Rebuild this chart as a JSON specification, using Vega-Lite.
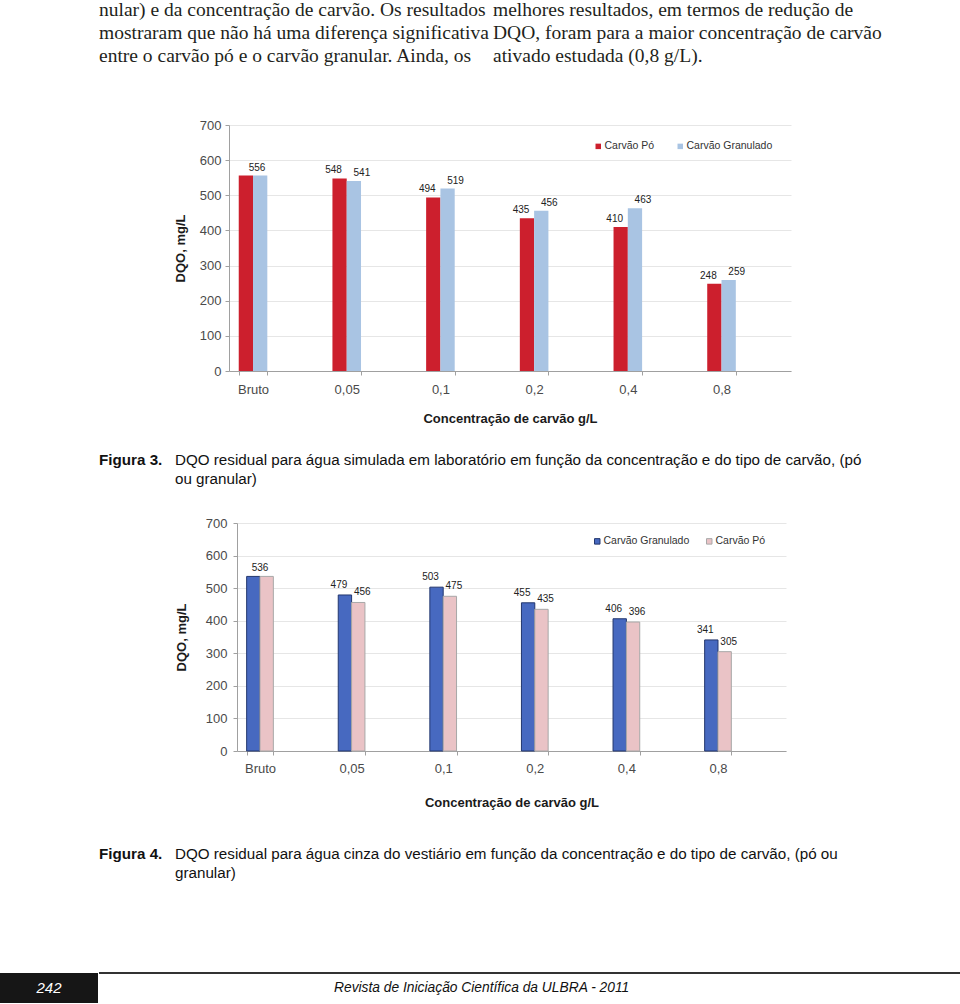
{
  "$schema": "https://vega.github.io/schema/vega-lite/v6.json",
  "padding": 0,
  "spacing": 0,
  "background": "white",
  "config": {"view": {"stroke": null}, "concat": {"spacing": 0}, "font": "Liberation Sans"},
  "resolve": {"scale": {"color": "independent", "stroke": "independent", "xOffset": "independent"}, "legend": {"color": "independent", "stroke": "independent"}},
  "vconcat": [
    {
      "width": 960, "height": 119,
      "data": {"values": [
        {"col": "a", "line": 1, "text": "nular) e da concentração de carvão. Os resultados"},
        {"col": "a", "line": 2, "text": "mostraram que não há uma diferença significativa"},
        {"col": "a", "line": 3, "text": "entre o carvão pó e o carvão granular. Ainda, os"},
        {"col": "b", "line": 1, "text": "melhores resultados, em termos de redução de"},
        {"col": "b", "line": 2, "text": "DQO, foram para a maior concentração de carvão"},
        {"col": "b", "line": 3, "text": "ativado estudada (0,8 g/L)."}
      ]},
      "mark": {"type": "text", "align": "left", "baseline": "middle", "font": "Liberation Serif", "fontSize": 19.5, "color": "#231f20"},
      "encoding": {
        "x": {"field": "col", "type": "ordinal", "scale": {"type": "point", "domain": ["a", "b"], "range": [99, 493], "padding": 0}, "axis": null},
        "y": {"field": "line", "type": "ordinal", "scale": {"type": "point", "domain": [1, 2, 3], "range": [10, 56], "padding": 0}, "axis": null},
        "text": {"field": "text"}
      }
    },
    {
      "spacing": 0,
      "resolve": {"scale": {"color": "independent", "xOffset": "independent"}, "legend": {"color": "independent"}},
      "hconcat": [
        {"width": 174, "height": 1, "data": {"values": []}, "mark": "point", "encoding": {}},
        {
          "width": 562, "height": 246,
          "data": {"values": [
            {"conc": "Bruto", "tipo": "Carvão Pó", "dqo": 556},
            {"conc": "Bruto", "tipo": "Carvão Granulado", "dqo": 556},
            {"conc": "0,05", "tipo": "Carvão Pó", "dqo": 548},
            {"conc": "0,05", "tipo": "Carvão Granulado", "dqo": 541},
            {"conc": "0,1", "tipo": "Carvão Pó", "dqo": 494},
            {"conc": "0,1", "tipo": "Carvão Granulado", "dqo": 519},
            {"conc": "0,2", "tipo": "Carvão Pó", "dqo": 435},
            {"conc": "0,2", "tipo": "Carvão Granulado", "dqo": 456},
            {"conc": "0,4", "tipo": "Carvão Pó", "dqo": 410},
            {"conc": "0,4", "tipo": "Carvão Granulado", "dqo": 463},
            {"conc": "0,8", "tipo": "Carvão Pó", "dqo": 248},
            {"conc": "0,8", "tipo": "Carvão Granulado", "dqo": 259}
          ]},
          "encoding": {
            "x": {"field": "conc", "type": "nominal", "sort": ["Bruto", "0,05", "0,1", "0,2", "0,4", "0,8"],
              "scale": {"paddingInner": 0.695, "paddingOuter": 0.3465, "align": 0.15},
              "axis": {"title": "Concentração de carvão g/L", "labelAngle": 0, "labelFontSize": 13, "labelColor": "#4a4a4a", "labelPadding": 8, "tickBand": "extent", "tickSize": 4, "tickColor": "#a0a0a0", "domainColor": "#a0a0a0", "titleFontSize": 13, "titleFontWeight": "bold", "titleColor": "#1a1a1a", "titlePadding": 16}},
            "y": {"field": "dqo", "type": "quantitative", "scale": {"domain": [0, 700]},
              "axis": {"values": [0, 100, 200, 300, 400, 500, 600, 700], "title": "DQO, mg/L", "grid": true, "gridColor": "#e6e6e6", "domainColor": "#a0a0a0", "tickColor": "#a0a0a0", "tickSize": 4, "labelFontSize": 13, "labelColor": "#4a4a4a", "labelPadding": 4, "titleFontSize": 13, "titleFontWeight": "bold", "titleColor": "#1a1a1a", "titlePadding": 12}}
          },
          "layer": [
            {
              "mark": {"type": "bar"},
              "encoding": {
                "xOffset": {"field": "tipo", "type": "nominal", "scale": {"domain": ["Carvão Pó", "Carvão Granulado"]}},
                "color": {"field": "tipo", "type": "nominal", "scale": {"domain": ["Carvão Pó", "Carvão Granulado"], "range": ["#cc1f2d", "#a9c4e3"]},
                  "legend": {"orient": "none", "legendX": 364, "legendY": 16, "direction": "horizontal", "title": null, "symbolType": "square", "symbolSize": 30, "labelFontSize": 10.5, "labelColor": "#333", "columnPadding": 20, "labelOffset": 1}}
              }
            },
            {
              "transform": [{"filter": "datum.conc !== 'Bruto' && datum.tipo === 'Carvão Pó'"}],
              "mark": {"type": "text", "baseline": "bottom", "dy": -3, "dx": -6, "fontSize": 10, "color": "#222"},
              "encoding": {"xOffset": {"field": "tipo", "type": "nominal", "scale": {"domain": ["Carvão Pó", "Carvão Granulado"]}}, "text": {"field": "dqo"}}
            },
            {
              "transform": [{"filter": "datum.conc !== 'Bruto' && datum.tipo === 'Carvão Granulado'"}],
              "mark": {"type": "text", "baseline": "bottom", "dy": -3, "dx": 8, "fontSize": 10, "color": "#222"},
              "encoding": {"xOffset": {"field": "tipo", "type": "nominal", "scale": {"domain": ["Carvão Pó", "Carvão Granulado"]}}, "text": {"field": "dqo"}}
            },
            {
              "transform": [{"filter": "datum.conc === 'Bruto' && datum.tipo === 'Carvão Pó'"}],
              "mark": {"type": "text", "baseline": "bottom", "dy": -3, "dx": 4, "fontSize": 10, "color": "#222"},
              "encoding": {"text": {"field": "dqo"}}
            }
          ]
        }
      ]
    },
    {
      "width": 960, "height": 92,
      "data": {"values": [
        {"col": "a", "line": 1, "text": "Figura 3."},
        {"col": "b", "line": 1, "text": "DQO residual para água simulada em laboratório em função da concentração e do tipo de carvão, (pó"},
        {"col": "b", "line": 2, "text": "ou granular)"}
      ]},
      "encoding": {
        "x": {"field": "col", "type": "ordinal", "scale": {"type": "point", "domain": ["a", "b"], "range": [99, 175], "padding": 0}, "axis": null},
        "y": {"field": "line", "type": "ordinal", "scale": {"type": "point", "domain": [1, 2], "range": [35, 54], "padding": 0}, "axis": null},
        "text": {"field": "text"}
      },
      "layer": [
        {"transform": [{"filter": "datum.col === 'a'"}], "mark": {"type": "text", "align": "left", "baseline": "middle", "fontSize": 15.2, "fontWeight": "bold", "color": "#111"}},
        {"transform": [{"filter": "datum.col === 'b'"}], "mark": {"type": "text", "align": "left", "baseline": "middle", "fontSize": 15.2, "color": "#111"}}
      ]
    },
    {
      "spacing": 0,
      "resolve": {"scale": {"color": "independent", "stroke": "independent", "xOffset": "independent"}, "legend": {"color": "independent", "stroke": "independent"}},
      "hconcat": [
        {"width": 175, "height": 1, "data": {"values": []}, "mark": "point", "encoding": {}},
        {
          "width": 549, "height": 228,
          "data": {"values": [
            {"conc": "Bruto", "tipo": "Carvão Granulado", "dqo": 536},
            {"conc": "Bruto", "tipo": "Carvão Pó", "dqo": 536},
            {"conc": "0,05", "tipo": "Carvão Granulado", "dqo": 479},
            {"conc": "0,05", "tipo": "Carvão Pó", "dqo": 456},
            {"conc": "0,1", "tipo": "Carvão Granulado", "dqo": 503},
            {"conc": "0,1", "tipo": "Carvão Pó", "dqo": 475},
            {"conc": "0,2", "tipo": "Carvão Granulado", "dqo": 455},
            {"conc": "0,2", "tipo": "Carvão Pó", "dqo": 435},
            {"conc": "0,4", "tipo": "Carvão Granulado", "dqo": 406},
            {"conc": "0,4", "tipo": "Carvão Pó", "dqo": 396},
            {"conc": "0,8", "tipo": "Carvão Granulado", "dqo": 341},
            {"conc": "0,8", "tipo": "Carvão Pó", "dqo": 305}
          ]},
          "encoding": {
            "x": {"field": "conc", "type": "nominal", "sort": ["Bruto", "0,05", "0,1", "0,2", "0,4", "0,8"],
              "scale": {"paddingInner": 0.7085, "paddingOuter": 0.351, "align": 0.15},
              "axis": {"title": "Concentração de carvão g/L", "labelAngle": 0, "labelFontSize": 13, "labelColor": "#4a4a4a", "labelPadding": 7, "tickBand": "extent", "tickSize": 4, "tickColor": "#a0a0a0", "domainColor": "#a0a0a0", "titleFontSize": 13, "titleFontWeight": "bold", "titleColor": "#1a1a1a", "titlePadding": 21}},
            "y": {"field": "dqo", "type": "quantitative", "scale": {"domain": [0, 700]},
              "axis": {"values": [0, 100, 200, 300, 400, 500, 600, 700], "title": "DQO, mg/L", "grid": true, "gridColor": "#e6e6e6", "domainColor": "#a0a0a0", "tickColor": "#a0a0a0", "tickSize": 4, "labelFontSize": 13, "labelColor": "#4a4a4a", "labelPadding": 6, "titleFontSize": 13, "titleFontWeight": "bold", "titleColor": "#1a1a1a", "titlePadding": 17}}
          },
          "layer": [
            {
              "mark": {"type": "bar", "strokeWidth": 1},
              "encoding": {
                "xOffset": {"field": "tipo", "type": "nominal", "scale": {"domain": ["Carvão Granulado", "Carvão Pó"]}},
                "color": {"field": "tipo", "type": "nominal", "scale": {"domain": ["Carvão Granulado", "Carvão Pó"], "range": ["#4769c0", "#eac3c6"]},
                  "legend": {"orient": "none", "legendX": 355, "legendY": 13, "direction": "horizontal", "title": null, "symbolType": "square", "symbolSize": 30, "symbolStrokeColor": "#444", "symbolStrokeWidth": 1, "labelFontSize": 10.5, "labelColor": "#333", "columnPadding": 14, "labelOffset": 1}},
                "stroke": {"field": "tipo", "type": "nominal", "scale": {"domain": ["Carvão Granulado", "Carvão Pó"], "range": ["#23376e", "#a8a8a8"]}, "legend": null}
              }
            },
            {
              "transform": [{"filter": "datum.conc !== 'Bruto' && datum.tipo === 'Carvão Granulado'"}],
              "mark": {"type": "text", "baseline": "bottom", "dy": -5, "dx": -6, "fontSize": 10, "color": "#222"},
              "encoding": {"xOffset": {"field": "tipo", "type": "nominal", "scale": {"domain": ["Carvão Granulado", "Carvão Pó"]}}, "text": {"field": "dqo"}}
            },
            {
              "transform": [{"filter": "datum.conc !== 'Bruto' && datum.tipo === 'Carvão Pó'"}],
              "mark": {"type": "text", "baseline": "bottom", "dy": -5, "dx": 4, "fontSize": 10, "color": "#222"},
              "encoding": {"xOffset": {"field": "tipo", "type": "nominal", "scale": {"domain": ["Carvão Granulado", "Carvão Pó"]}}, "text": {"field": "dqo"}}
            },
            {
              "transform": [{"filter": "datum.conc === 'Bruto' && datum.tipo === 'Carvão Granulado'"}],
              "mark": {"type": "text", "baseline": "bottom", "dy": -3, "dx": 0, "fontSize": 10, "color": "#222"},
              "encoding": {"text": {"field": "dqo"}}
            }
          ]
        }
      ]
    },
    {
      "width": 960, "height": 163,
      "data": {"values": [
        {"col": "a", "line": 1, "text": "Figura 4."},
        {"col": "b", "line": 1, "text": "DQO residual para água cinza do vestiário em função da concentração e do tipo de carvão, (pó ou"},
        {"col": "b", "line": 2, "text": "granular)"}
      ]},
      "encoding": {
        "x": {"field": "col", "type": "ordinal", "scale": {"type": "point", "domain": ["a", "b"], "range": [99, 175], "padding": 0}, "axis": null},
        "y": {"field": "line", "type": "ordinal", "scale": {"type": "point", "domain": [1, 2], "range": [45, 64], "padding": 0}, "axis": null},
        "text": {"field": "text"}
      },
      "layer": [
        {"transform": [{"filter": "datum.col === 'a'"}], "mark": {"type": "text", "align": "left", "baseline": "middle", "fontSize": 15.2, "fontWeight": "bold", "color": "#111"}},
        {"transform": [{"filter": "datum.col === 'b'"}], "mark": {"type": "text", "align": "left", "baseline": "middle", "fontSize": 15.2, "color": "#111"}}
      ]
    },
    {
      "spacing": 0,
      "hconcat": [
        {
          "width": 98, "height": 30,
          "view": {"fill": "#161616", "stroke": null},
          "data": {"values": [{"page": "242"}]},
          "mark": {"type": "text", "color": "white", "fontSize": 15, "fontStyle": "italic", "baseline": "middle"},
          "encoding": {"text": {"field": "page"}}
        },
        {
          "width": 862, "height": 30,
          "data": {"values": [{"part": "journal", "text": "Revista de Iniciação Científica da ULBRA - 2011", "edge": 1}]},
          "layer": [
            {
              "mark": {"type": "rule", "color": "#333", "strokeWidth": 2},
              "encoding": {"y": {"field": "edge", "type": "quantitative", "scale": {"domain": [0, 1]}, "axis": null}}
            },
            {
              "mark": {"type": "text", "align": "left", "baseline": "middle", "fontSize": 13.8, "fontStyle": "italic", "color": "#111"},
              "encoding": {
                "x": {"field": "part", "type": "nominal", "scale": {"type": "point", "domain": ["journal"], "range": [235, 235], "padding": 0}, "axis": null},
                "text": {"field": "text"}
              }
            }
          ]
        }
      ]
    }
  ]
}
